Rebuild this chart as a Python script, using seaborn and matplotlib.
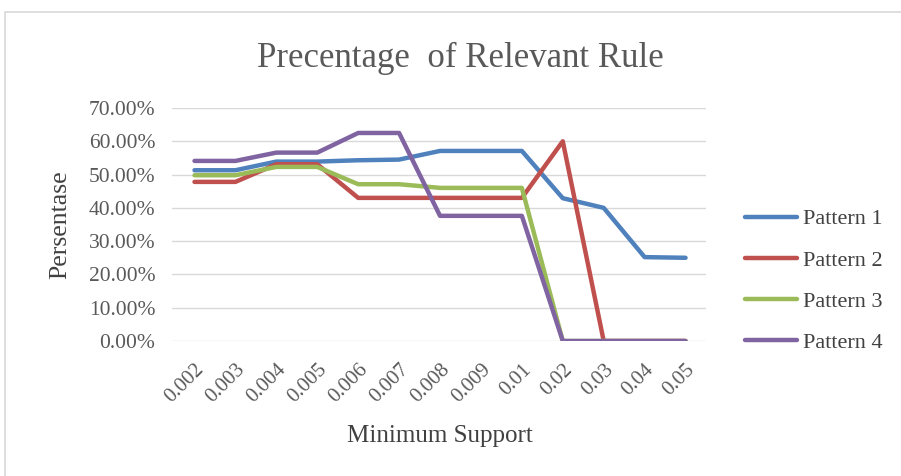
import matplotlib
matplotlib.use("Agg")
import matplotlib.pyplot as plt
import seaborn as sns
import pandas as pd
import numpy as np

support = ["0.002", "0.003", "0.004", "0.005", "0.006", "0.007", "0.008",
           "0.009", "0.01", "0.02", "0.03", "0.04", "0.05"]
pattern1 = [51.3, 51.3, 53.9, 53.9, 54.3, 54.5, 57.1, 57.1, 57.1, 42.9, 40.0, 25.2, 25.0]
pattern2 = [47.8, 47.8, 53.1, 53.1, 43.0, 43.0, 43.0, 43.0, 43.0, 60.0, 0.0, 0.0, 0.0]
pattern3 = [49.8, 49.8, 52.3, 52.3, 47.1, 47.1, 46.0, 46.0, 46.0, 0.0, 0.0, 0.0, 0.0]
pattern4 = [54.1, 54.1, 56.6, 56.6, 62.5, 62.5, 37.6, 37.6, 37.6, 0.0, 0.0, 0.0, 0.0]
series_names = ["Pattern 1", "Pattern 2", "Pattern 3", "Pattern 4"]
colors = ["#4F81BD", "#C0504D", "#9BBB59", "#8064A2"]
yticks = [0.0, 0.1, 0.2, 0.3, 0.4, 0.5, 0.6, 0.7]

rows = []
for name, vals in zip(series_names, [pattern1, pattern2, pattern3, pattern4]):
    for i, (s, v) in enumerate(zip(support, vals)):
        rows.append({"idx": i, "support": s, "value": v / 100.0, "series": name})
df = pd.DataFrame(rows)

sns.set_theme(style="white")
plt.rcParams["font.family"] = ["Liberation Serif", "DejaVu Serif"]

W, H = 901, 476
fig = plt.figure(figsize=(W / 100, H / 100), dpi=100)
ax = fig.add_axes([172 / W, 1 - 341 / H, (706 - 172) / W, (341 - 108) / H])

sns.lineplot(data=df, x="idx", y="value", hue="series", palette=colors,
             linewidth=3.2, ax=ax, sort=False, legend=True)

ax.set_xlim(-0.55, 12.5)
ax.set_ylim(0, 0.7)
ax.set_yticks(yticks)
ax.set_yticklabels([f"{v*100:.2f}%" for v in yticks], fontsize=15.5, color="#595959")
ax.set_xticks(range(len(support)))
ax.set_xticklabels(support, rotation=45, ha="right", rotation_mode="anchor",
                   fontsize=15, color="#595959")
ax.tick_params(axis="y", length=0, pad=12)
ax.tick_params(axis="x", length=0, pad=14)
ax.grid(axis="y", color="#D9D9D9", linewidth=1)
ax.set_axisbelow(True)
for sp in ax.spines.values():
    sp.set_visible(False)

ax.set_xlabel("")
ax.set_ylabel("")
fig.text(440 / W, 1 - 436 / H, "Minimum Support", fontsize=18, color="#404040",
         ha="center", va="center")
fig.text(60 / W, 1 - 225 / H, "Persentase", fontsize=18.5, color="#404040",
         ha="center", va="center", rotation=90)
fig.text(460 / W, 1 - 58 / H, "Precentage  of Relevant Rule", fontsize=25,
         color="#595959", ha="center", va="center")

handles, labels = ax.get_legend_handles_labels()
ax.legend(handles, labels, loc="center left",
          bbox_to_anchor=(745 / W, 1 - 281 / H), bbox_transform=fig.transFigure,
          frameon=False, fontsize=16, handlelength=2.35, labelspacing=0.93,
          handletextpad=0.25, borderpad=0, borderaxespad=0, labelcolor="#404040")

# outer border
fig.patches.append(plt.Rectangle((5 / W, -0.01), 1.0, 1 - 12 / H + 0.01,
                                 transform=fig.transFigure, fill=False,
                                 edgecolor="#D9D9D9", linewidth=1.2))

fig.savefig("out.png", dpi=100)
